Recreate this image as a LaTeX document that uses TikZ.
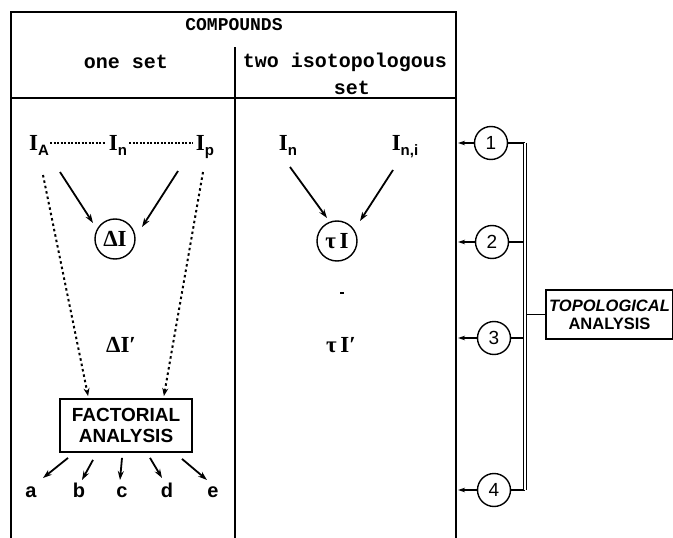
\documentclass[tikz,border=0pt]{standalone}
\usepackage{fontspec}
\setmainfont{Liberation Serif}
\setsansfont{Liberation Sans}
\setmonofont{Liberation Mono}
\usetikzlibrary{arrows.meta}
\newcommand{\isub}[1]{\raisebox{-5pt}{\sffamily\bfseries\fontsize{15}{15}\selectfont #1}}
\begin{document}
\begin{tikzpicture}[x=1pt,y=-1pt,
  every node/.style={inner sep=0pt},
  frame/.style={line width=2.4pt},
  hdr/.style={font=\ttfamily\bfseries\fontsize{20}{24}\selectfont},
  ivar/.style={font=\bfseries\fontsize{23}{24}\selectfont, anchor=base},
  arr/.style={line width=1.8pt, -{Stealth[length=9pt,width=6pt]}},
  dotarr/.style={line width=2pt, dash pattern=on 2.5pt off 3pt, -{Stealth[length=8pt,width=6pt]}},
  fine/.style={line width=1.2pt, dash pattern=on 2pt off 1.5pt},
  ring/.style={draw, circle, line width=1.4pt, minimum size=40pt, font=\bfseries\fontsize{23}{24}\selectfont},
  num/.style={draw, circle, line width=1.4pt, minimum size=33pt, font=\sffamily\fontsize{19}{20}\selectfont},
  fabox/.style={draw, line width=1.8pt, align=center, font=\sffamily\bfseries\fontsize{19}{21}\selectfont},
  letter/.style={anchor=base, font=\sffamily\bfseries\fontsize{20}{20}\selectfont},
  dbl/.style={double, double distance=2.5pt, line width=1.2pt},
  link/.style={line width=1.3pt},
  tip/.style={line width=1.3pt, -{Stealth[length=7pt,width=4.5pt]}}
]
\useasboundingbox (0,0) rectangle (673,538);
% table frame
\draw[frame] (11,538) -- (11,12) -- (456,12) -- (456,538);
\draw[frame] (11,98) -- (456,98);
\draw[frame] (235,47) -- (235,538);
% headers
\node[hdr, font=\ttfamily\bfseries\fontsize{18}{20}\selectfont] (hcomp) at (234,25) {COMPOUNDS};
\node[hdr] (hone) at (126,62) {one set};
\node[hdr] (htwo) at (345,62) {two isotopologous};
\node[hdr] (hset) at (352,88) {set};
% column 1
\node[ivar] (IA) at (39,150) {I\isub{A}};
\node[ivar] (In) at (118,150) {I\isub{n}};
\node[ivar] (Ip) at (205,150) {I\isub{p}};
\draw[fine] ([xshift=1pt,yshift=7pt]IA.base east) -- ([xshift=-3pt,yshift=7pt]In.base west);
\draw[fine] ([xshift=2pt,yshift=7pt]In.base east) -- ([xshift=-3pt,yshift=7pt]Ip.base west);
\node[ring] (DI) at (115,239) {ΔI};
\draw[arr] ([shift={(21,22)}]IA.base) -- ([shift={(-22,-16)}]DI.center);
\draw[arr] ([shift={(-27,21)}]Ip.base) -- ([shift={(27,-12)}]DI.center);
\node[font=\bfseries\fontsize{23}{24}\selectfont] (DIp) at (121,345) {ΔI′};
\node[fabox, minimum width=132pt, minimum height=53pt] (FA) at (126,425.5) {FACTORIAL\\ANALYSIS};
\draw[dotarr] ([shift={(4,25)}]IA.base) -- ([shift={(29,-2)}]FA.north west);
\draw[dotarr] ([shift={(-2,22)}]Ip.base) -- ([shift={(-29,-2)}]FA.north east);
\node[letter] (la) at (31,497) {a};
\node[letter] (lb) at (79,497) {b};
\node[letter] (lc) at (122,497) {c};
\node[letter] (ld) at (167,497) {d};
\node[letter] (le) at (213,497) {e};
\draw[arr] ([shift={(-58,5)}]FA.south) -- ([shift={(12,-19)}]la.base);
\draw[arr] ([shift={(-33,7)}]FA.south) -- ([shift={(3,-17)}]lb.base);
\draw[arr] ([shift={(-4,5)}]FA.south) -- ([shift={(-2,-17)}]lc.base);
\draw[arr] ([shift={(24,5)}]FA.south) -- ([shift={(-5,-19)}]ld.base);
\draw[arr] ([shift={(56,6)}]FA.south) -- ([shift={(-6,-17)}]le.base);
% column 2
\node[ivar] (In2) at (288,150) {I\isub{n}};
\node[ivar] (Ini) at (405,150) {I\isub{n,i}};
\node[ring] (TI) at (337,241) {τ\,I};
\draw[arr] ([shift={(2,17)}]In2.base) -- ([shift={(-10,-23)}]TI.center);
\draw[arr] ([shift={(-12,20)}]Ini.base) -- ([shift={(23,-20)}]TI.center);
\draw[line width=1.6pt] (340,293) -- (344,293);
\node[font=\bfseries\fontsize{23}{24}\selectfont] (TIp) at (341,345) {τ\,I′};
% right side
\node[num] (c1) at (491,143) {1};
\node[num] (c2) at (492,242) {2};
\node[num] (c3) at (494,338) {3};
\node[num] (c4) at (494,490) {4};
\coordinate (e1) at (458,143);
\coordinate (e2) at (458,242);
\coordinate (e3) at (458,338);
\coordinate (e4) at (458,490);
\draw[tip] (c1) -- (e1);
\draw[tip] (c2) -- (e2);
\draw[tip] (c3) -- (e3);
\draw[tip] (c4) -- (e4);
\coordinate (dt) at (525,143);
\coordinate (db) at (525,490);
\draw[link] (c1) -- (c1 -| dt);
\draw[link] (c2) -- (c2 -| dt);
\draw[link] (c3) -- (c3 -| dt);
\draw[link] (c4) -- (c4 -| dt);
\draw[dbl] (dt) -- (db);
\node[draw, line width=1.6pt, minimum width=127pt, minimum height=49pt, align=center, font=\sffamily\bfseries\fontsize{16.5}{18}\selectfont] (TA) at (609.5,314.5) {\textit{TOPOLOGICAL}\\ANALYSIS};
\draw[link] (TA.west) -- ([xshift=2pt]TA.west -| dt);
\end{tikzpicture}
\end{document}
